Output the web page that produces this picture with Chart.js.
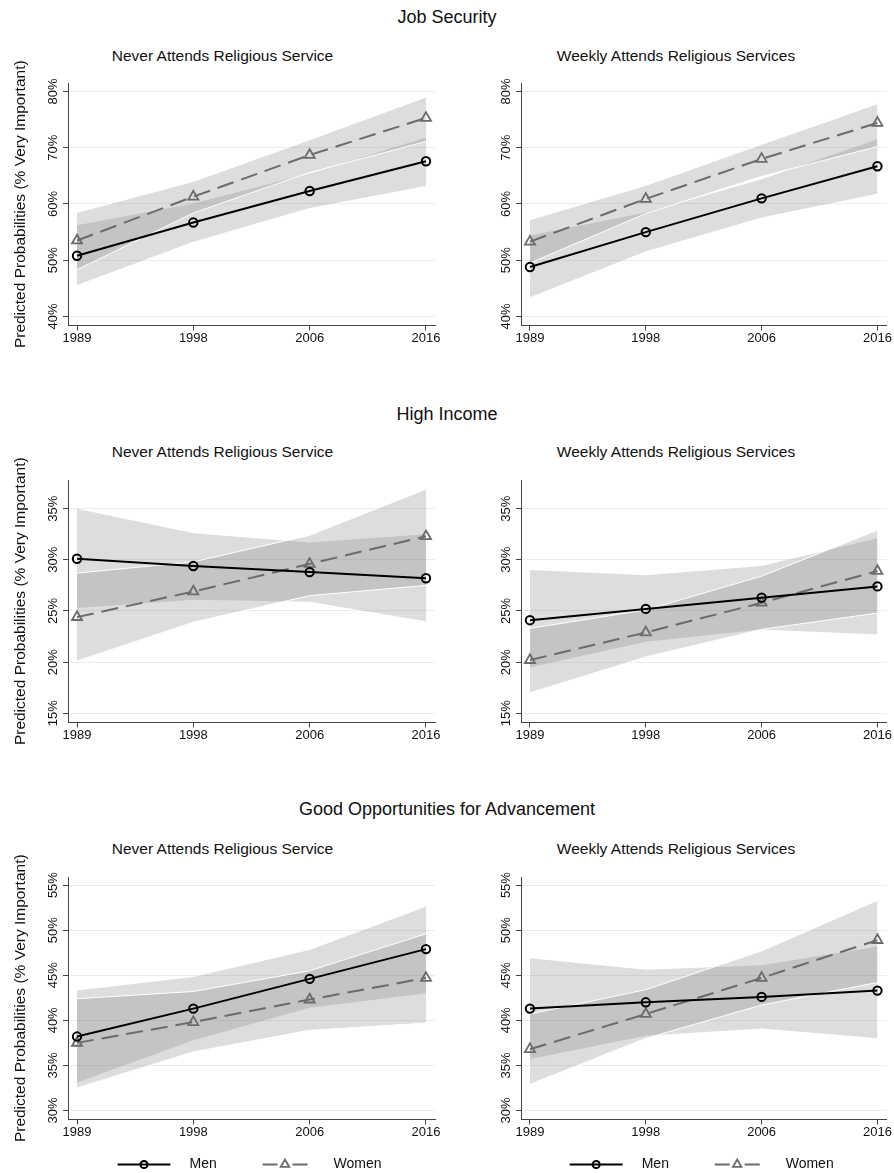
<!DOCTYPE html>
<html>
<head>
<meta charset="utf-8">
<script src="https://cdn.jsdelivr.net/npm/chart.js@4.4.1/dist/chart.umd.min.js"></script>
<style>
  body { margin: 0; background: #fff; }
  #page { position: relative; width: 894px; height: 1173px; font-family: 'Liberation Sans', Arial, sans-serif; color: #111; overflow: hidden; }
  .rowTitle { position: absolute; left: 0; width: 894px; text-align: center; font-size: 18px; line-height: 18px; white-space: nowrap; }
  .panelTitle { position: absolute; text-align: center; font-size: 15.5px; line-height: 15.5px; white-space: nowrap; }
  canvas { position: absolute; }
</style>
</head>
<body>
<div id="page"></div>
<script>
// survey waves
const years = ['1989', '1998', '2006', '2016'];
const panelTitles = ['Never Attends Religious Service', 'Weekly Attends Religious Services'];

// y tick labels (percent) for each outcome
const jobTicks = [40, 50, 60, 70, 80];
const incomeTicks = [15, 20, 25, 30, 35];
const advTicks = [30, 35, 40, 45, 50, 55];

// Job Security - never attends
const jobNeverMen = [50.8, 56.7, 62.3, 67.6];
const jobNeverMenLo = [45.6, 53.3, 59.3, 63.2];
const jobNeverMenHi = [56.2, 60.1, 65.4, 71.8];
const jobNeverWomen = [53.5, 61.3, 68.7, 75.3];
const jobNeverWomenLo = [48.3, 58.4, 65.6, 71.1];
const jobNeverWomenHi = [58.5, 64.0, 71.4, 79.0];

// Job Security - weekly attends
const jobWeeklyMen = [48.8, 55.0, 61.0, 66.7];
const jobWeeklyMenLo = [43.4, 51.6, 57.6, 61.8];
const jobWeeklyMenHi = [54.4, 58.5, 64.4, 71.5];
const jobWeeklyWomen = [53.3, 60.9, 68.0, 74.4];
const jobWeeklyWomenLo = [49.5, 58.3, 64.9, 70.2];
const jobWeeklyWomenHi = [57.2, 63.3, 70.6, 77.8];

// High Income - never attends
const incNeverMen = [30.1, 29.4, 28.8, 28.2];
const incNeverMenLo = [25.3, 26.1, 25.9, 24.0];
const incNeverMenHi = [35.0, 32.6, 31.7, 32.5];
const incNeverWomen = [24.4, 26.9, 29.6, 32.3];
const incNeverWomenLo = [20.1, 23.9, 26.5, 27.5];
const incNeverWomenHi = [28.7, 29.8, 32.4, 36.9];

// High Income - weekly attends
const incWeeklyMen = [24.1, 25.2, 26.3, 27.4];
const incWeeklyMenLo = [19.5, 22.0, 23.2, 22.7];
const incWeeklyMenHi = [29.0, 28.5, 29.4, 32.1];
const incWeeklyWomen = [20.2, 22.9, 25.8, 28.9];
const incWeeklyWomenLo = [17.0, 20.5, 23.2, 24.8];
const incWeeklyWomenHi = [23.3, 25.1, 28.4, 32.9];

// Good Opportunities for Advancement - never attends
const advNeverMen = [38.2, 41.3, 44.6, 47.9];
const advNeverMenLo = [33.1, 37.8, 41.4, 43.0];
const advNeverMenHi = [43.3, 44.8, 47.8, 52.6];
const advNeverWomen = [37.5, 39.8, 42.3, 44.7];
const advNeverWomenLo = [32.5, 36.5, 38.9, 39.7];
const advNeverWomenHi = [42.4, 43.2, 45.5, 49.6];

// Good Opportunities for Advancement - weekly attends
const advWeeklyMen = [41.3, 42.0, 42.6, 43.3];
const advWeeklyMenLo = [35.7, 38.3, 39.1, 38.0];
const advWeeklyMenHi = [46.9, 45.6, 46.1, 48.2];
const advWeeklyWomen = [36.8, 40.7, 44.7, 48.9];
const advWeeklyWomenLo = [32.9, 38.0, 41.7, 44.2];
const advWeeklyWomenHi = [40.7, 43.4, 47.7, 53.3];

const rows = [
  { title: 'Job Security', ticks: jobTicks, min: 38.4, max: 81.5, panels: [
    { men: jobNeverMen, menLo: jobNeverMenLo, menHi: jobNeverMenHi, women: jobNeverWomen, womenLo: jobNeverWomenLo, womenHi: jobNeverWomenHi },
    { men: jobWeeklyMen, menLo: jobWeeklyMenLo, menHi: jobWeeklyMenHi, women: jobWeeklyWomen, womenLo: jobWeeklyWomenLo, womenHi: jobWeeklyWomenHi }
  ]},
  { title: 'High Income', ticks: incomeTicks, min: 14.1, max: 37.8, panels: [
    { men: incNeverMen, menLo: incNeverMenLo, menHi: incNeverMenHi, women: incNeverWomen, womenLo: incNeverWomenLo, womenHi: incNeverWomenHi },
    { men: incWeeklyMen, menLo: incWeeklyMenLo, menHi: incWeeklyMenHi, women: incWeeklyWomen, womenLo: incWeeklyWomenLo, womenHi: incWeeklyWomenHi }
  ]},
  { title: 'Good Opportunities for Advancement', ticks: advTicks, min: 29.0, max: 55.9, panels: [
    { men: advNeverMen, menLo: advNeverMenLo, menHi: advNeverMenHi, women: advNeverWomen, womenLo: advNeverWomenLo, womenHi: advNeverWomenHi },
    { men: advWeeklyMen, menLo: advWeeklyMenLo, menHi: advWeeklyMenHi, women: advWeeklyWomen, womenLo: advWeeklyWomenLo, womenHi: advWeeklyWomenHi }
  ]}
];

Chart.defaults.font.family = "'Liberation Sans', Arial, sans-serif";
Chart.defaults.color = '#111';

const band = 'rgba(128,128,128,0.27)';
const clear = 'rgba(0,0,0,0)';

// line + marker key under the bottom panels
const lineKey = {
  id: 'lineKey',
  afterDraw(chart, args, opts) {
    if (!opts.display) return;
    const { ctx, chartArea } = chart;
    const mid = (chartArea.left + chartArea.right) / 2;
    const y = chartArea.bottom + 45;
    const spots = [[-134, -81, -62], [11, 56, 82]];
    ctx.save();
    spots.forEach(([a, b, t], i) => {
      const ds = chart.data.datasets[i];
      ctx.strokeStyle = ds.borderColor;
      ctx.lineWidth = ds.borderWidth;
      ctx.setLineDash(ds.borderDash ? [(b - a) / 3, (b - a) / 3] : []);
      ctx.beginPath();
      ctx.moveTo(mid + a, y);
      ctx.lineTo(mid + b, y);
      ctx.stroke();
      ctx.setLineDash([]);
      ctx.strokeStyle = ds.pointBorderColor;
      ctx.fillStyle = ds.pointBackgroundColor;
      ctx.lineWidth = ds.pointBorderWidth;
      Chart.helpers.drawPoint(ctx, { pointStyle: ds.pointStyle, radius: ds.pointRadius * 0.85, borderWidth: ds.pointBorderWidth, rotation: 0 }, mid + (a + b) / 2, y);
      ctx.fillStyle = '#111';
      ctx.font = "14px 'Liberation Sans', Arial, sans-serif";
      ctx.textBaseline = 'middle';
      ctx.textAlign = 'left';
      ctx.fillText(ds.label, mid + t, y);
    });
    ctx.restore();
  }
};

function panelDatasets(p) {
  return [
    { label: 'Men', data: p.men, borderColor: '#000', borderWidth: 2, pointStyle: 'circle', pointRadius: 4.2,
      pointBorderWidth: 2, pointBorderColor: '#000', pointBackgroundColor: clear, fill: false },
    { label: 'Women', data: p.women, borderColor: '#6b6b6b', borderWidth: 2, borderDash: [17, 8], pointStyle: 'triangle',
      pointRadius: 5.8, pointBorderWidth: 1.8, pointBorderColor: '#6b6b6b', pointBackgroundColor: clear, fill: false },
    { label: 'Women upper', data: p.womenHi, borderColor: '#fff', borderWidth: 1, pointRadius: 0, fill: false },
    { label: 'Women lower', data: p.womenLo, borderColor: '#fff', borderWidth: 1, pointRadius: 0, fill: '-1', backgroundColor: band },
    { label: 'Men upper', data: p.menHi, borderColor: clear, borderWidth: 0, pointRadius: 0, fill: false },
    { label: 'Men lower', data: p.menLo, borderColor: clear, borderWidth: 0, pointRadius: 0, fill: '-1', backgroundColor: band }
  ];
}

const page = document.getElementById('page');
const topRoom = 50;
const areaTops = [83, 480, 877];
const rowTitleTops = [8, 404.5, 800];
const subTitleTops = [47.5, 444, 840.5];
const cols = [{ left: 0, width: 445, titleWidth: 445 }, { left: 453, width: 441, titleWidth: 446 }];

rows.forEach((row, r) => {
  const rt = document.createElement('div');
  rt.className = 'rowTitle';
  rt.style.top = rowTitleTops[r] + 'px';
  rt.textContent = row.title;
  page.appendChild(rt);

  row.panels.forEach((p, c) => {
    const col = cols[c];
    const st = document.createElement('div');
    st.className = 'panelTitle';
    st.style.left = col.left + 'px';
    st.style.width = col.titleWidth + 'px';
    st.style.top = subTitleTops[r] + 'px';
    st.textContent = panelTitles[c];
    page.appendChild(st);

    const last = r === rows.length - 1;
    const canvas = document.createElement('canvas');
    const h = topRoom + 242.5 + 36 + (last ? 50.5 : 0.5);
    canvas.width = col.width;
    canvas.height = h;
    canvas.style.left = col.left + 'px';
    canvas.style.top = (areaTops[r] - topRoom) + 'px';
    canvas.style.width = col.width + 'px';
    canvas.style.height = h + 'px';
    page.appendChild(canvas);

    new Chart(canvas, {
      type: 'line',
      data: { labels: years.map((y, i) => i), datasets: panelDatasets(p) },
      options: {
        responsive: false,
        animation: false,
        devicePixelRatio: 1,
        layout: { padding: { top: topRoom, left: 0, right: col.width - 435, bottom: last ? 50.5 : 0.5 } },
        plugins: { legend: { display: false }, tooltip: { enabled: false }, lineKey: { display: last } },
        elements: { line: { tension: 0 } },
        scales: {
          x: {
            type: 'linear',
            min: -0.0775,
            max: 3.0775,
            afterBuildTicks: s => { s.ticks = years.map((y, i) => ({ value: i })); },
            afterFit: s => { s.height = 36; },
            ticks: { font: { size: 13 }, color: '#111', padding: 0, maxRotation: 0, autoSkip: false, callback: v => years[v] },
            grid: { drawOnChartArea: false, tickLength: 5, tickColor: '#444' },
            border: { color: '#444' }
          },
          y: {
            min: row.min,
            max: row.max,
            afterBuildTicks: s => { s.ticks = row.ticks.map(v => ({ value: v })); },
            afterFit: s => { s.width = 68; },
            ticks: { font: { size: 13 }, color: '#111', minRotation: 90, maxRotation: 90, crossAlign: 'center', padding: -3, callback: v => v + '%' },
            grid: { color: '#e6eef0', tickLength: 5, tickColor: '#444' },
            border: { color: '#444' },
            title: { display: c === 0, text: 'Predicted Probabilities (% Very Important)', font: { size: 15.5 }, color: '#111', padding: { top: 11, bottom: 0 } }
          }
        }
      },
      plugins: [lineKey]
    });
  });
});
</script>
</body>
</html>
